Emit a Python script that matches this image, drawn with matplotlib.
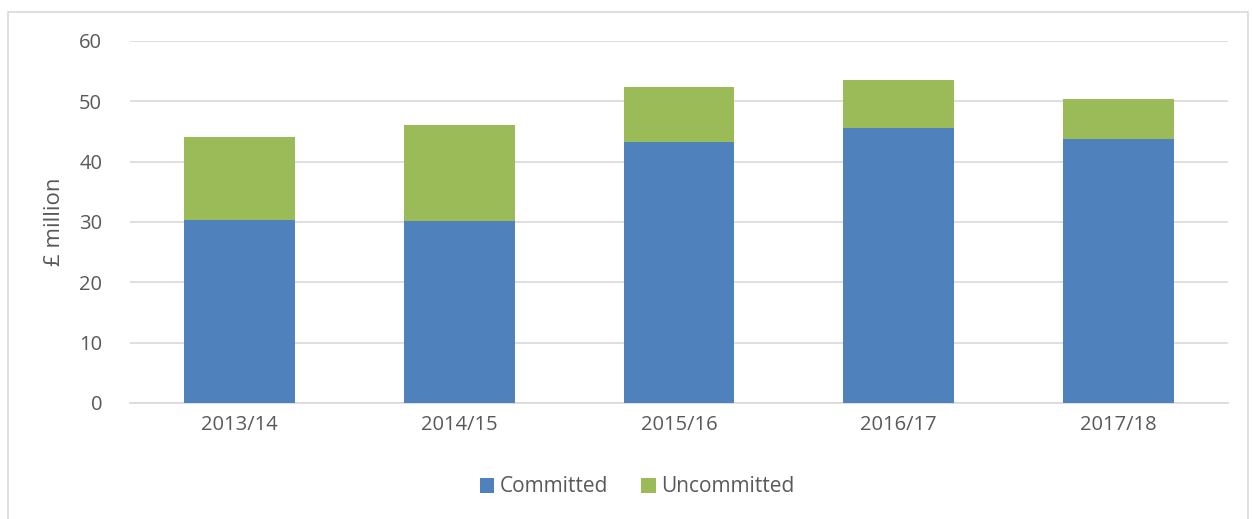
import matplotlib.pyplot as plt
import numpy as np
from matplotlib.patches import Rectangle

years = ["2013/14", "2014/15", "2015/16", "2016/17", "2017/18"]
committed = [30.4, 30.2, 43.3, 45.5, 43.7]
totals = [44.1, 46.1, 52.4, 53.5, 50.4]
uncommitted = [t - c for t, c in zip(totals, committed)]

BLUE = "#4F81BD"
GREEN = "#9BBB59"
TEXT = "#595959"

plt.rcParams["font.family"] = ["Open Sans", "DejaVu Sans"]

fig = plt.figure(figsize=(12.52, 5.19), dpi=100)
ax = fig.add_axes([130 / 1252, 1 - 403 / 519, 1098 / 1252, 362 / 519])

# light frame round the chart area
fig.patches.append(Rectangle((8 / 1252, -0.01), 1240 / 1252, 1 - 12 / 519 + 0.01,
                             transform=fig.transFigure, fill=False,
                             edgecolor="#D9D9D9", linewidth=1.2))

x = np.arange(len(years))
w = 0.505
ax.bar(x, committed, w, color=BLUE, label="Committed", zorder=3)
ax.bar(x, uncommitted, w, bottom=committed, color=GREEN, label="Uncommitted", zorder=3)

ax.set_xlim(-0.5, len(years) - 0.5)
ax.set_ylim(0, 60)
ax.set_yticks(range(0, 61, 10))
ax.set_xticks(x)
ax.set_xticklabels(years)
ax.yaxis.grid(True, color="#D9D9D9", linewidth=1.2, zorder=0)
ax.set_axisbelow(True)
for side in ["top", "right", "left"]:
    ax.spines[side].set_visible(False)
ax.spines["bottom"].set_color("#D9D9D9")
ax.spines["bottom"].set_linewidth(1.2)
ax.tick_params(axis="both", length=0, labelsize=14.5, colors=TEXT)
ax.tick_params(axis="y", pad=20)
ax.tick_params(axis="x", pad=9)
ax.set_ylabel("£ million", fontsize=16, color=TEXT, labelpad=10)

fig.legend(loc="center", bbox_to_anchor=(637 / 1252, 1 - 487 / 519), ncol=2,
           frameon=False, fontsize=15, labelcolor=TEXT, handlelength=0.7,
           handleheight=0.7, handletextpad=0.25, columnspacing=1.6)

fig.savefig("out.png", dpi=100)
